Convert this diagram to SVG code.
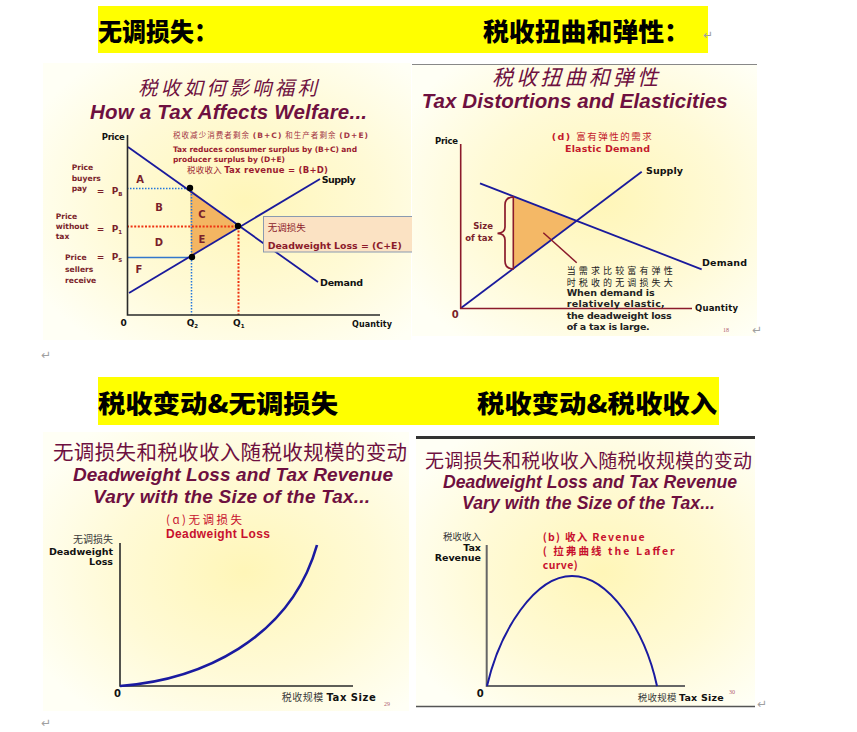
<svg xmlns="http://www.w3.org/2000/svg" width="857" height="732" viewBox="0 0 857 732">
<defs>
<radialGradient id="bg" cx="0.55" cy="0.5" r="0.65">
<stop offset="0" stop-color="#FFF6B8"/>
<stop offset="0.55" stop-color="#FFFAD6"/>
<stop offset="1" stop-color="#FFFFF5"/>
</radialGradient>
<style>
.hdr{font-family:"Noto Sans CJK SC",sans-serif;font-weight:900;font-size:25px;fill:#000}
.ttl{font-family:"Liberation Sans",Arial,sans-serif;font-weight:bold;font-style:italic;fill:#6e1040}
.cjkt{font-family:"Noto Sans CJK SC",sans-serif;fill:#6e1040}
.lbl{font-family:"DejaVu Sans",Verdana,"Noto Sans CJK SC",sans-serif;font-weight:bold}
.cjk{font-family:"Noto Sans CJK SC",sans-serif}
.mar{fill:#7a1f2b}
.red{fill:#c41a2c}
.blk{fill:#111}
.gry{fill:#3a3a3a}
.ret{font-family:"DejaVu Sans",sans-serif;font-size:12px;fill:#a0a0a0}
.ax{stroke:#2a2a2a;stroke-width:1.6;fill:none}
.axm{stroke:#8b1a2b;stroke-width:1.6;fill:none}
.curve{stroke:#1a1a9c;stroke-width:1.8;fill:none}
.tiny{font-family:"Liberation Serif",serif;font-size:6px;fill:#b06070}
</style>
</defs>
<rect width="857" height="732" fill="#fff"/>

<!-- headers -->
<g id="header-top">
<rect x="98" y="6" width="610" height="47" fill="#FFFF00"/>
<text class="hdr" x="98" y="41" textLength="120" lengthAdjust="spacingAndGlyphs">无调损失：</text>
<text class="hdr" x="483" y="41" textLength="207" lengthAdjust="spacingAndGlyphs">税收扭曲和弹性：</text>
<text class="ret" x="703" y="39">↵</text>
</g>
<g id="header-bottom">
<rect x="98" y="377" width="621" height="48" fill="#FFFF00"/>
<text class="hdr" x="98" y="413" textLength="240" lengthAdjust="spacingAndGlyphs">税收变动&amp;无调损失</text>
<text class="hdr" x="477" y="413" textLength="240" lengthAdjust="spacingAndGlyphs">税收变动&amp;税收收入</text>
</g>
<text class="ret" x="41" y="359">↵</text>
<text class="ret" x="41" y="727">↵</text>

<!-- Panel 1: How a tax affects welfare -->
<g id="panel-welfare">
<rect x="43" y="63" width="368" height="277" fill="url(#bg)"/>
<text class="cjkt" x="227.5" y="95" font-size="19.5" font-style="italic" text-anchor="middle" textLength="179">税收如何影响福利</text>
<text class="ttl" x="90" y="119" font-size="20.5" textLength="277">How a Tax Affects Welfare...</text>
<text class="lbl blk" x="101.7" y="140" font-size="8.5" textLength="23">Price</text>
<polygon points="190,189 191,257 238,227" fill="#F3B562"/>
<g id="connectors-welfare">
<line x1="127" y1="188.5" x2="190" y2="188.5" stroke="#2277dd" stroke-width="1.5" stroke-dasharray="1.5 1.5"/>
<line x1="191.5" y1="188" x2="191.5" y2="315" stroke="#2277dd" stroke-width="1.5" stroke-dasharray="1.5 1.5"/>
<line x1="127" y1="226.5" x2="238" y2="226.5" stroke="#ee3311" stroke-width="2" stroke-dasharray="2 1.6"/>
<line x1="238.5" y1="227" x2="238.5" y2="315" stroke="#ee3311" stroke-width="2" stroke-dasharray="2 1.6"/>
<line x1="127" y1="257.5" x2="191" y2="257.5" stroke="#3377cc" stroke-width="1.6"/>
<line class="curve" x1="128" y1="147" x2="318" y2="282"/>
<line class="curve" x1="129" y1="293" x2="320" y2="179"/>
<polyline class="ax" points="127.5,135 127.5,315 380,315"/>
</g>
<circle cx="190" cy="188" r="3.2" fill="#000"/>
<circle cx="192" cy="257" r="3.2" fill="#000"/>
<circle cx="238" cy="226" r="3.2" fill="#000"/>
<g class="lbl mar" font-size="10" text-anchor="middle">
<text x="140" y="183">A</text>
<text x="159" y="211">B</text>
<text x="202" y="218">C</text>
<text x="159" y="246">D</text>
<text x="202" y="243">E</text>
<text x="139" y="273">F</text>
</g>
<g class="lbl mar" font-size="7.6">
<text x="71.7" y="170">Price</text>
<text x="71.7" y="180.5">buyers</text>
<text x="71.7" y="191">pay</text>
<text x="96.7" y="194" font-size="9">=</text>
<text x="111.7" y="194" font-size="9">P<tspan font-size="5.5" dy="1.5">B</tspan></text>
<text x="55.7" y="219">Price</text>
<text x="55.7" y="229">without</text>
<text x="55.7" y="239">tax</text>
<text x="96.7" y="232" font-size="9">=</text>
<text x="111.7" y="232" font-size="9">P<tspan font-size="5.5" dy="1.5">1</tspan></text>
<text x="65" y="260">Price</text>
<text x="65" y="272">sellers</text>
<text x="65" y="283">receive</text>
<text x="96.7" y="260" font-size="9">=</text>
<text x="111.7" y="260" font-size="9">P<tspan font-size="5.5" dy="1.5">S</tspan></text>
</g>
<text class="cjk" x="173" y="138" font-size="7.5" fill="#a33545" textLength="195">税收减少消费者剩余 <tspan class="lbl">(B+C)</tspan> 和生产者剩余 <tspan class="lbl">(D+E)</tspan></text>
<text class="lbl" x="173" y="152" font-size="7.5" fill="#9b1b30" textLength="184">Tax reduces consumer surplus by (B+C) and</text>
<text class="lbl" x="173" y="162" font-size="7.5" fill="#9b1b30" textLength="112">producer surplus by (D+E)</text>
<text class="cjk" x="187" y="172.5" font-size="8.5" fill="#9b1b30" textLength="141">税收收入 <tspan class="lbl">Tax revenue = (B+D)</tspan></text>
<text class="lbl blk" x="321.7" y="182.5" font-size="9.5" textLength="34">Supply</text>
<g id="dwl-box">
<rect x="263.5" y="216.5" width="149" height="35.5" fill="#FBE2C3" stroke="#8a9ab0" stroke-width="1"/>
<text class="cjk" x="267.7" y="231" font-size="9.5" fill="#8b1a2b">无调损失</text>
<text class="lbl" x="267.7" y="248.5" font-size="9.4" fill="#8b1a2b" textLength="134">Deadweight Loss = (C+E)</text>
</g>
<text class="lbl blk" x="320" y="286.2" font-size="9.5" textLength="43">Demand</text>
<g class="lbl blk" font-size="9">
<text x="120.5" y="326">0</text>
<text x="186.7" y="326">Q<tspan font-size="5.5" dy="1.5">2</tspan></text>
<text x="233" y="326">Q<tspan font-size="5.5" dy="1.5">1</tspan></text>
</g>
<text class="lbl blk" x="352" y="326.5" font-size="8" textLength="40">Quantity</text>
</g>

<!-- Panel 2: Tax distortions and elasticities -->
<g id="panel-elastic">
<rect x="412" y="64" width="345" height="272" fill="url(#bg)"/>
<line x1="412" y1="64.5" x2="757" y2="64.5" stroke="#888" stroke-width="1"/>
<text class="cjkt" x="575" y="85" font-size="21" font-style="italic" text-anchor="middle" textLength="166">税收扭曲和弹性</text>
<text class="ttl" x="421.7" y="108.3" font-size="20.5" textLength="306">Tax Distortions and Elasticities</text>
<text class="lbl blk" x="435" y="144" font-size="8.5" textLength="23">Price</text>
<text class="cjk red" x="551.7" y="139.5" font-size="9.5" textLength="100"><tspan class="lbl">(d) </tspan>富有弹性的需求</text>
<text class="lbl red" x="565" y="151.5" font-size="9.5" textLength="85">Elastic Demand</text>
<text class="lbl blk" x="646" y="173.5" font-size="9.5" textLength="37">Supply</text>
<polygon points="513.3,196.3 513.3,268.8 577,220.9" fill="#F4B866"/>
<g id="connectors-elastic">
<line class="curve" x1="460.7" y1="308.3" x2="641.7" y2="171.7"/>
<line class="curve" x1="480" y1="183.3" x2="701.7" y2="269.3"/>
<line x1="513.3" y1="196.5" x2="513.3" y2="268.5" stroke="#8b1a2b" stroke-width="1.6"/>
<path d="M514,197 Q505,197 505,205 L505,227 Q505,233 497.5,233.3 Q505,233.6 505,240 L505,261 Q505,269 514,269" fill="none" stroke="#8b1a2b" stroke-width="1.7"/>
<line x1="543.3" y1="232.7" x2="576.7" y2="262.7" stroke="#8b1a2b" stroke-width="1.5"/>
<polyline class="axm" points="460.7,144 460.7,308.5 692,308.5"/>
</g>
<text class="lbl mar" x="493" y="229" font-size="8.5" text-anchor="end">Size</text>
<text class="lbl mar" x="493" y="240.5" font-size="8.5" text-anchor="end">of tax</text>
<g font-size="9.5" fill="#222">
<text class="cjk" x="566.7" y="274" font-size="9" textLength="106">当需求比较富有弹性</text>
<text class="cjk" x="566.7" y="285.5" font-size="9" textLength="106">时税收的无调损失大</text>
<text class="lbl" x="566.7" y="296" textLength="88">When demand is</text>
<text class="lbl" x="566.7" y="307" textLength="98">relatively elastic,</text>
<text class="lbl" x="566.7" y="318.5" textLength="105">the deadweight loss</text>
<text class="lbl" x="566.7" y="329.5" textLength="83">of a tax is large.</text>
</g>
<text class="lbl blk" x="702" y="265.5" font-size="9.5" textLength="45">Demand</text>
<text class="lbl blk" x="695" y="310.5" font-size="8.5" textLength="43">Quantity</text>
<text class="lbl mar" x="451.7" y="318" font-size="10">0</text>
<text class="tiny" x="723" y="332">18</text>
<text class="ret" x="752" y="334">↵</text>
</g>

<!-- Panel 3: Deadweight loss vs tax size -->
<g id="panel-dwl">
<rect x="43" y="432" width="366" height="279" fill="url(#bg)"/>
<text class="cjkt" x="53" y="459.5" font-size="20.5" textLength="354">无调损失和税收收入随税收规模的变动</text>
<text class="ttl" x="73" y="480.5" font-size="19" textLength="320">Deadweight Loss and Tax Revenue</text>
<text class="ttl" x="93" y="503" font-size="19" textLength="277">Vary with the Size of the Tax...</text>
<text class="cjk" x="166" y="524" font-size="11.5" fill="#c8102e" textLength="76">(ɑ)无调损失</text>
<text x="166" y="537.5" font-family="Liberation Sans,Arial,sans-serif" font-weight="bold" font-size="12" fill="#c8102e" textLength="104">Deadweight Loss</text>
<text class="cjk gry" x="113" y="543" font-size="10" text-anchor="end">无调损失</text>
<text class="lbl blk" x="113" y="554.5" font-size="9.5" text-anchor="end">Deadweight</text>
<text class="lbl blk" x="113" y="565" font-size="9.5" text-anchor="end">Loss</text>
<g id="connectors-dwl">
<polyline class="ax" points="120,543 120,686 353,686" stroke-width="2"/>
<path d="M120,686 C200,680 290,640 317,545" fill="none" stroke="#1a1aa0" stroke-width="2.6"/>
</g>
<text class="lbl blk" x="114" y="697" font-size="10">0</text>
<text class="cjk gry" x="281.7" y="701" font-size="10" textLength="94">税收规模 <tspan class="lbl" fill="#111">Tax Size</tspan></text>
<text class="tiny" x="384" y="706">29</text>
</g>

<!-- Panel 4: Laffer curve -->
<g id="panel-laffer">
<rect x="416" y="439" width="339" height="267" fill="url(#bg)"/>
<line x1="416" y1="437.5" x2="755" y2="437.5" stroke="#333" stroke-width="3"/>
<line x1="416" y1="706.5" x2="755" y2="706.5" stroke="#555" stroke-width="1.5"/>
<text class="cjkt" x="425" y="467.5" font-size="19" textLength="327">无调损失和税收收入随税收规模的变动</text>
<text class="ttl" x="443" y="487.5" font-size="17.6" textLength="294">Deadweight Loss and Tax Revenue</text>
<text class="ttl" x="462" y="508.5" font-size="17.6" textLength="253">Vary with the Size of the Tax...</text>
<text class="cjk gry" x="481" y="539.5" font-size="9.5" text-anchor="end">税收收入</text>
<text class="lbl blk" x="481" y="550.5" font-size="9.5" text-anchor="end">Tax</text>
<text class="lbl blk" x="481" y="560.5" font-size="9.5" text-anchor="end">Revenue</text>
<g class="cjk" font-size="10.5" fill="#c8102e" font-weight="bold">
<text x="542.7" y="540.5" textLength="102">(b) 收入  Revenue</text>
<text x="542.7" y="554.5" textLength="132">( 拉弗曲线  the Laffer</text>
<text x="542.7" y="569" textLength="35">curve)</text>
</g>
<g id="connectors-laffer">
<polyline points="486.7,545 486.7,686 685,686" fill="none" stroke="#666" stroke-width="2"/>
<path d="M487,686 C500,630 535,576 572,576 C609,576 645,630 657,686" fill="none" stroke="#1a1aa0" stroke-width="2"/>
</g>
<text class="lbl blk" x="476.7" y="697" font-size="10">0</text>
<text class="cjk gry" x="637.7" y="701" font-size="9.5" textLength="86">税收规模 <tspan class="lbl" fill="#111">Tax Size</tspan></text>
<text class="tiny" x="729" y="694" font-size="5.5" fill="#d09090">30</text>
<text class="ret" x="757" y="708">↵</text>
</g>
</svg>
